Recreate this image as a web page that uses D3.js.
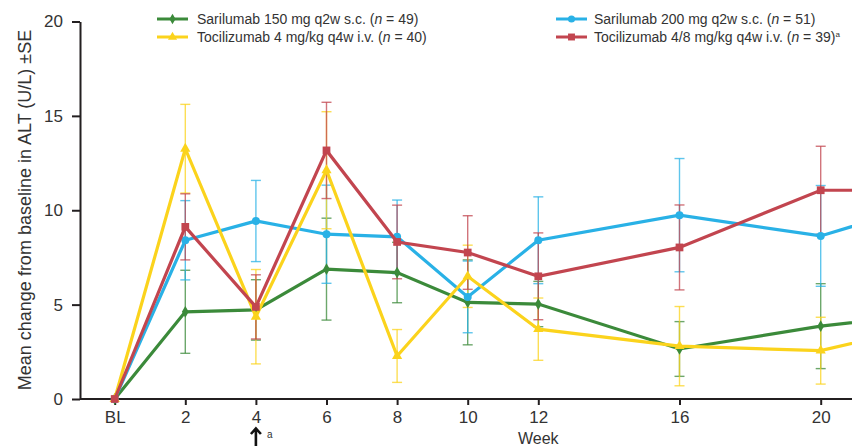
<!DOCTYPE html>
<html>
<head>
<meta charset="utf-8">
<script src="https://cdn.jsdelivr.net/npm/d3@7"></script>
<style>
  html, body { margin: 0; padding: 0; background: #fff; }
  svg { display: block; font-family: 'Liberation Sans', Arial, sans-serif; }
</style>
</head>
<body>
<div class="chart"></div>
<script>
// weeks from baseline (24 lies past the cropped right edge)
const weeks = [0, 2, 4, 6, 8, 10, 12, 16, 20, 24];
const tickWeeks = [0, 2, 4, 6, 8, 10, 12, 16, 20];
const yTicks = [0, 5, 10, 15, 20];

// mean change in ALT (U/L) and SE
const sari150 = [0, 4.62, 4.72, 6.88, 6.70, 5.12, 5.03, 2.65, 3.86, 4.70];
const sari150SE = [0, 2.2, 1.6, 2.7, 1.6, 2.25, 1.2, 1.45, 2.25, 2.0];
const sari200 = [0, 8.41, 9.43, 8.73, 8.59, 5.41, 8.41, 9.74, 8.64, 10.9];
const sari200SE = [0, 2.1, 2.15, 2.6, 1.95, 1.9, 2.3, 3.0, 2.67, 2.5];
const toci4 = [0, 13.26, 4.36, 12.12, 2.28, 6.5, 3.70, 2.8, 2.56, 4.3];
const toci4SE = [0, 2.35, 2.5, 3.1, 1.4, 1.65, 1.65, 2.1, 1.77, 2.0];
const toci48 = [0, 9.12, 4.88, 13.17, 8.32, 7.76, 6.5, 8.03, 11.06, 11.06];
const toci48SE = [0, 1.75, 1.7, 2.55, 1.95, 1.95, 2.3, 2.25, 2.33, 2.3];

const width = 852;
const height = 446;

const series = [
  { name: 'Sarilumab 150 mg q2w s.c.', n: 49, values: sari150, se: sari150SE, color: '#3b8a3a', shape: d3.symbolDiamond, size: 40 },
  { name: 'Sarilumab 200 mg q2w s.c.', n: 51, values: sari200, se: sari200SE, color: '#29b1e6', shape: d3.symbolCircle, size: 50 },
  { name: 'Tocilizumab 4 mg/kg q4w i.v.', n: 40, values: toci4, se: toci4SE, color: '#fbd31c', shape: d3.symbolTriangle, size: 45 },
  { name: 'Tocilizumab 4/8 mg/kg q4w i.v.', n: 39, values: toci48, se: toci48SE, color: '#c2454f', shape: d3.symbolSquare, size: 60, note: 'a' }
];

const svg = d3.select('.chart')
  .append('svg')
  .attr('width', width)
  .attr('height', height);

const x = d3.scaleLinear().domain([0, 24]).range([114.7, 114.7 + 35.3 * 24]);
const y = d3.scaleLinear().domain([0, 20]).range([399, 21.5]);

const axisColor = '#231f20';

// y axis
const yAxis = svg.append('g')
  .attr('transform', 'translate(80,0)')
  .call(d3.axisLeft(y).tickValues(yTicks).tickSize(8).tickSizeOuter(0).tickPadding(9));
yAxis.select('.domain').attr('stroke', axisColor).attr('stroke-width', 2);
yAxis.selectAll('.tick line').attr('stroke', axisColor).attr('stroke-width', 2);
yAxis.selectAll('.tick text')
  .attr('font-family', "'Liberation Sans', Arial, sans-serif")
  .attr('font-size', 17).attr('fill', '#333');

// x axis
const xAxis = svg.append('g')
  .attr('transform', 'translate(0,399)')
  .call(d3.axisBottom(x).tickValues(tickWeeks).tickSize(6).tickPadding(6)
    .tickFormat(d => d === 0 ? 'BL' : d));
xAxis.select('.domain').remove();
xAxis.append('line')
  .attr('x1', 80).attr('x2', width)
  .attr('stroke', axisColor).attr('stroke-width', 2);
xAxis.selectAll('.tick line').attr('stroke', axisColor).attr('stroke-width', 2);
xAxis.selectAll('.tick text')
  .attr('font-family', "'Liberation Sans', Arial, sans-serif")
  .attr('font-size', 17).attr('fill', '#333');

// axis titles
svg.append('text')
  .attr('transform', `translate(31,${(y(0) + 13) / 2 + 4}) rotate(-90)`)
  .attr('text-anchor', 'middle')
  .attr('font-size', 18)
  .attr('fill', '#333')
  .text('Mean change from baseline in ALT (U/L) ±SE');

svg.append('text')
  .attr('x', x(12))
  .attr('y', 444)
  .attr('text-anchor', 'middle')
  .attr('font-size', 16)
  .attr('fill', '#333')
  .text('Week');

// arrow under week 4
const ax = x(4);
svg.append('path')
  .attr('d', `M${ax},446 V429 M${ax - 5},434 L${ax},428.5 L${ax + 5},434`)
  .attr('fill', 'none').attr('stroke', '#111').attr('stroke-width', 2.6);
svg.append('text')
  .attr('x', ax + 11).attr('y', 438)
  .attr('font-size', 10).attr('fill', '#333')
  .text('a');

// error bars
const eb = svg.append('g');
series.forEach(s => {
  const g = eb.append('g')
    .attr('stroke', s.color)
    .attr('stroke-width', 1.4)
    .attr('stroke-opacity', 0.75);
  weeks.forEach((w, i) => {
    if (s.se[i] === 0) return;
    const cx = x(w);
    const hi = y(s.values[i] + s.se[i]);
    const lo = y(s.values[i] - s.se[i]);
    g.append('line').attr('x1', cx).attr('x2', cx).attr('y1', hi).attr('y2', lo);
    g.append('line').attr('x1', cx - 5).attr('x2', cx + 5).attr('y1', hi).attr('y2', hi);
    g.append('line').attr('x1', cx - 5).attr('x2', cx + 5).attr('y1', lo).attr('y2', lo);
  });
});

// lines and markers
const line = d3.line().x(d => x(d[0])).y(d => y(d[1]));
series.forEach(s => {
  const pts = weeks.map((w, i) => [w, s.values[i]]);
  svg.append('path')
    .datum(pts)
    .attr('d', line)
    .attr('fill', 'none')
    .attr('stroke', s.color)
    .attr('stroke-width', 3.2)
    .attr('stroke-linejoin', 'miter');
  svg.append('g')
    .selectAll('path')
    .data(pts)
    .join('path')
    .attr('transform', d => `translate(${x(d[0])},${y(d[1])})`)
    .attr('d', d3.symbol().type(s.shape).size(s.size))
    .attr('fill', s.color);
});

// legend
const legendPos = [
  { lx: 157, tx: 197, ty: 19 },
  { lx: 556, tx: 594, ty: 19 },
  { lx: 157, tx: 197, ty: 37 },
  { lx: 556, tx: 594, ty: 37 }
];
series.forEach((s, i) => {
  const p = legendPos[i];
  const g = svg.append('g');
  g.append('line')
    .attr('x1', p.lx).attr('x2', p.lx + 31)
    .attr('y1', p.ty).attr('y2', p.ty)
    .attr('stroke', s.color).attr('stroke-width', 3);
  g.append('path')
    .attr('transform', `translate(${p.lx + 15.5},${p.ty})`)
    .attr('d', d3.symbol().type(s.shape).size(s.size * 0.8))
    .attr('fill', s.color);
  const t = g.append('text')
    .attr('x', p.tx).attr('y', p.ty + 5)
    .attr('font-size', 14).attr('fill', '#333');
  t.append('tspan').text(s.name + ' (');
  t.append('tspan').attr('font-style', 'italic').text('n');
  t.append('tspan').text(' = ' + s.n + ')');
  if (s.note) {
    t.append('tspan').attr('font-size', 8).attr('dy', -5).text(s.note);
  }
});
</script>
</body>
</html>
